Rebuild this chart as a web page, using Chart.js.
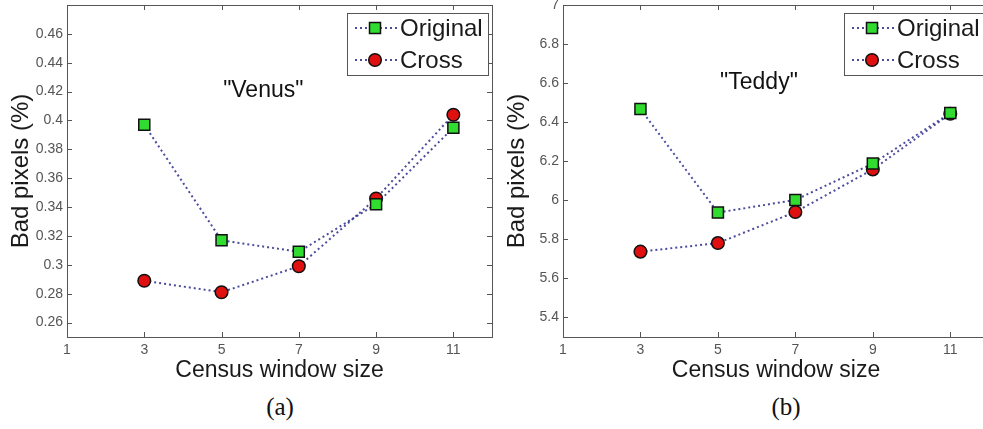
<!DOCTYPE html>
<html>
<head>
<meta charset="utf-8">
<script src="https://cdn.jsdelivr.net/npm/chart.js@4.4.1/dist/chart.umd.min.js"></script>
<style>
  html, body { margin: 0; padding: 0; background: #fff; overflow: hidden; }
  #page { position: relative; width: 983px; height: 429px; overflow: hidden; background: #fff; }
  canvas { position: absolute; top: 0; }
  .caption { position: absolute; top: 393px; font-family: 'Liberation Serif', 'Times New Roman', serif; font-size: 25px; color: #111; transform: translateX(-50%); }
</style>
</head>
<body>
<div id="page">
  <canvas id="venusChart" width="496" height="390" style="left:0"></canvas>
  <canvas id="teddyChart" width="500" height="390" style="left:493px"></canvas>
  <div class="caption" style="left:280px">(a)</div>
  <div class="caption" style="left:786px">(b)</div>
</div>
<script>
// values
const windowSizes = [3, 5, 7, 9, 11];
const venusOriginal = [0.397, 0.317, 0.309, 0.342, 0.395];
const venusCross = [0.289, 0.281, 0.299, 0.346, 0.404];
const teddyOriginal = [6.467, 5.937, 6.002, 6.188, 6.447];
const teddyCross = [5.737, 5.781, 5.940, 6.158, 6.443];

const xTicks = [1, 3, 5, 7, 9, 11];
const venusTicks = [0.26, 0.28, 0.30, 0.32, 0.34, 0.36, 0.38, 0.40, 0.42, 0.44, 0.46];
const teddyTicks = [5.4, 5.6, 5.8, 6.0, 6.2, 6.4, 6.6, 6.8, 7.0];
const seriesNames = ['Original', 'Cross'];

const FONT = "'Liberation Sans', Arial, sans-serif";
const LINE_COLOR = 'rgba(45, 45, 140, 0.85)';
const GREEN = '#2fdc2f';
const RED = '#e01010';

function toPoints(xs, ys) {
    return xs.map((x, i) => ({ x: x, y: ys[i] }));
}

function drawMarker(ctx, style, x, y) {
    ctx.save();
    ctx.lineWidth = 1.5;
    ctx.strokeStyle = '#111';
    ctx.beginPath();
    if (style === 'rect') {
        ctx.fillStyle = GREEN;
        ctx.rect(x - 5.5, y - 5.5, 11, 11);
    } else {
        ctx.fillStyle = RED;
        ctx.arc(x, y, 6.3, 0, Math.PI * 2);
    }
    ctx.fill();
    ctx.stroke();
    ctx.restore();
}

// frame, inward ticks, legend and the in-plot label, matlab style
const matlabFrame = {
    id: 'matlabFrame',
    afterDraw(chart, args, opts) {
        const ctx = chart.ctx;
        const area = chart.chartArea;
        const xs = chart.scales.x;
        const ys = chart.scales.y;
        ctx.save();
        ctx.strokeStyle = '#555';
        ctx.lineWidth = 1;
        ctx.strokeRect(area.left + 0.5, area.top + 0.5, area.right - area.left, area.bottom - area.top);

        ctx.beginPath();
        xTicks.forEach(v => {
            const px = Math.round(xs.getPixelForValue(v)) + 0.5;
            ctx.moveTo(px, area.bottom); ctx.lineTo(px, area.bottom - 5);
            ctx.moveTo(px, area.top); ctx.lineTo(px, area.top + 5);
        });
        opts.yTicks.forEach(v => {
            const py = Math.round(ys.getPixelForValue(v)) + 0.5;
            ctx.moveTo(area.left, py); ctx.lineTo(area.left + 5, py);
            ctx.moveTo(area.right, py); ctx.lineTo(area.right - 5, py);
        });
        ctx.stroke();

        // label inside the plot
        ctx.fillStyle = '#111';
        ctx.font = '23px ' + FONT;
        ctx.textAlign = 'center';
        ctx.textBaseline = 'middle';
        ctx.fillText(opts.label, xs.getPixelForValue(opts.labelAt[0]), ys.getPixelForValue(opts.labelAt[1]));

        // legend box
        const bw = 141, bh = 62;
        const bx = area.right - 4 - bw;
        const by = area.top + 8;
        ctx.fillStyle = '#fff';
        ctx.fillRect(bx, by, bw, bh);
        ctx.strokeStyle = '#555';
        ctx.strokeRect(bx + 0.5, by + 0.5, bw, bh);
        const styles = ['rect', 'circle'];
        seriesNames.forEach((name, i) => {
            const cy = by + 15 + i * 32;
            ctx.save();
            ctx.strokeStyle = LINE_COLOR;
            ctx.lineWidth = 2;
            ctx.setLineDash([2, 3]);
            ctx.beginPath();
            ctx.moveTo(bx + 8, cy); ctx.lineTo(bx + 51, cy);
            ctx.stroke();
            ctx.restore();
            drawMarker(ctx, styles[i], bx + 28, cy);
            ctx.fillStyle = '#1a1a1a';
            ctx.font = '24px ' + FONT;
            ctx.textAlign = 'left';
            ctx.textBaseline = 'middle';
            ctx.fillText(name, bx + 53, cy + 1);
        });
        ctx.restore();
    }
};

function makeChart(canvasId, cfg) {
    const ctx = document.getElementById(canvasId).getContext('2d');
    return new Chart(ctx, {
        type: 'line',
        data: {
            datasets: [{
                label: seriesNames[0],
                data: toPoints(windowSizes, cfg.original),
                borderColor: LINE_COLOR,
                borderWidth: 2,
                borderDash: [2, 3],
                pointStyle: 'rect',
                pointRadius: 7.8,
                pointBackgroundColor: GREEN,
                pointBorderColor: '#111',
                pointBorderWidth: 1.5,
                tension: 0
            }, {
                label: seriesNames[1],
                data: toPoints(windowSizes, cfg.cross),
                borderColor: LINE_COLOR,
                borderWidth: 2,
                borderDash: [2, 3],
                pointStyle: 'circle',
                pointRadius: 6.3,
                pointBackgroundColor: RED,
                pointBorderColor: '#111',
                pointBorderWidth: 1.5,
                tension: 0
            }]
        },
        options: {
            responsive: false,
            animation: false,
            layout: { autoPadding: false, padding: { top: 5, right: 4, left: 0, bottom: 0 } },
            scales: {
                x: {
                    type: 'linear',
                    min: 1,
                    max: 12,
                    afterBuildTicks: s => { s.ticks = xTicks.map(v => ({ value: v })); },
                    afterFit: s => { s.height = 53; s.paddingLeft = 0; s.paddingRight = 0; },
                    grid: { display: false, drawTicks: false },
                    border: { display: false },
                    ticks: {
                        padding: 5,
                        color: '#555',
                        font: { family: FONT, size: 14 },
                        callback: v => String(v)
                    },
                    title: {
                        display: true,
                        text: 'Census window size',
                        color: '#1a1a1a',
                        font: { family: FONT, size: 23 },
                        padding: { top: 0, bottom: 6 }
                    }
                },
                y: {
                    type: 'linear',
                    min: cfg.yMin,
                    max: cfg.yMax,
                    afterBuildTicks: s => { s.ticks = cfg.yTicks.map(v => ({ value: v })); },
                    afterFit: s => { s.width = cfg.yWidth; s.paddingTop = 0; s.paddingBottom = 0; },
                    grid: { display: false, drawTicks: false },
                    border: { display: false },
                    ticks: {
                        padding: 4,
                        color: '#555',
                        font: { family: FONT, size: 14 },
                        callback: v => String(+v.toFixed(2))
                    },
                    title: {
                        display: true,
                        text: 'Bad pixels (%)',
                        color: '#1a1a1a',
                        font: { family: FONT, size: 24 },
                        padding: { top: cfg.titlePad, bottom: 0 }
                    }
                }
            },
            plugins: {
                legend: { display: false },
                tooltip: { enabled: false },
                matlabFrame: { yTicks: cfg.yTicks, label: cfg.label, labelAt: cfg.labelAt }
            }
        },
        plugins: [matlabFrame]
    });
}

makeChart('venusChart', {
    original: venusOriginal,
    cross: venusCross,
    yMin: 0.25,
    yMax: 0.48,
    yTicks: venusTicks,
    yWidth: 67,
    titlePad: 7,
    label: '"Venus"',
    labelAt: [6.08, 0.421]
});

makeChart('teddyChart', {
    original: teddyOriginal,
    cross: teddyCross,
    yMin: 5.3,
    yMax: 7,
    yTicks: teddyTicks,
    yWidth: 70,
    titlePad: 10,
    label: '"Teddy"',
    labelAt: [6.06, 6.60]
});
</script>
</body>
</html>
